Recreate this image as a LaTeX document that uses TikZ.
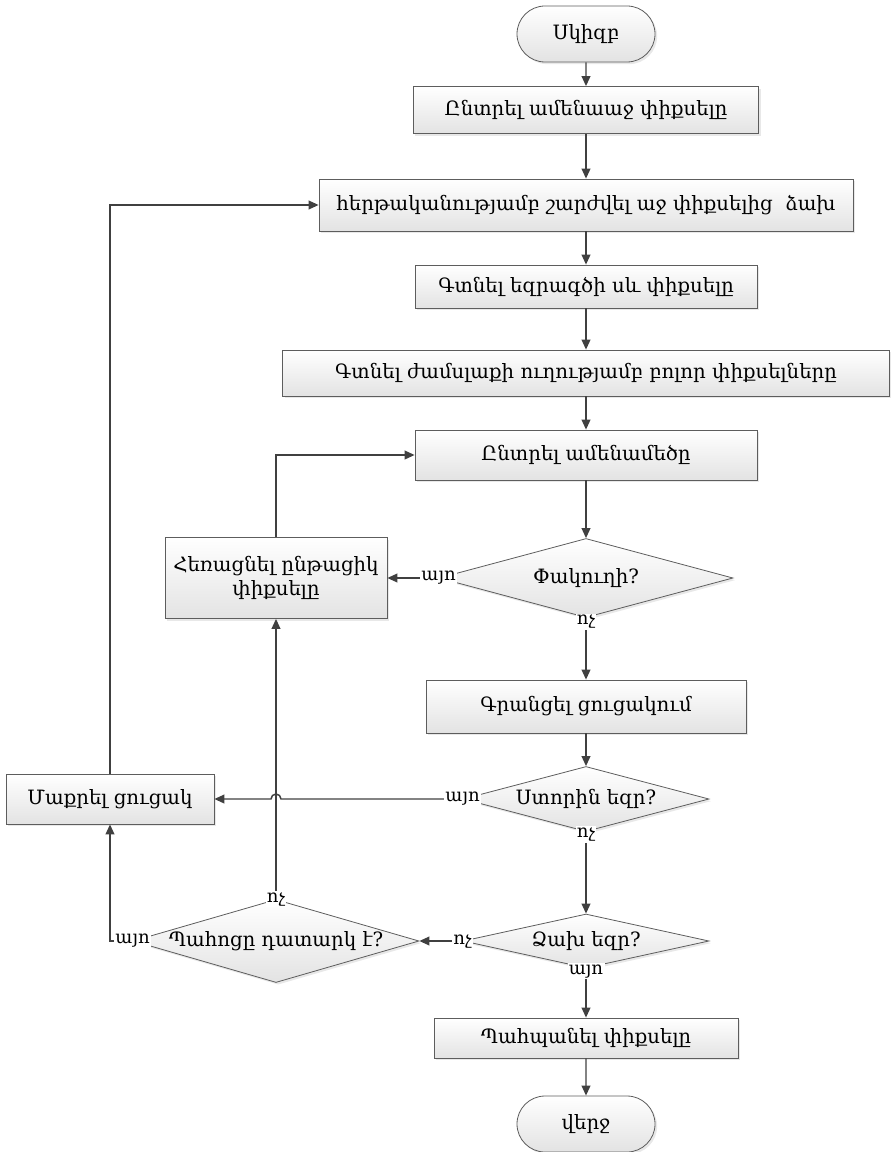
\documentclass[tikz,border=0pt]{standalone}
\usepackage{fontspec}
\setmainfont{DejaVu Serif}
\usetikzlibrary{shapes.geometric}
\usetikzlibrary{shapes.misc}
\usetikzlibrary{shadows}
\usetikzlibrary{arrows.meta}
\usetikzlibrary{calc}
\definecolor{linegray}{HTML}{404040}
\tikzset{box/.style={draw=linegray!85,line width=0.6pt,
    top color=white,bottom color=black!11,
    drop shadow={shadow xshift=1.6pt,shadow yshift=-1.6pt,fill=black!18},
    font=\fontsize{14.8}{18.5}\selectfont,align=center,inner sep=0pt}
}
\tikzset{proc/.style={box,rectangle}}
\tikzset{term/.style={box,rounded rectangle,minimum width=103.5pt,minimum height=42pt}}
\tikzset{decide/.style={box,diamond}}
\tikzset{lbl/.style={fill=white,inner sep=1pt,font=\fontsize{13.5}{15}\selectfont}}
\tikzset{flow/.style={draw=linegray,line width=1.1pt,-{Triangle[length=7.5pt,width=6.6pt]}}}

\begin{document}
\begin{tikzpicture}[x=0.75pt,y=-0.75pt]
                \useasboundingbox (0,0) rectangle (891,1152);

                % Main column
                \node[term] (start) at (586,34) {Սկիզբ};
                \node[proc,minimum width=259pt,minimum height=35.25pt] (pick) at (586,110) {Ընտրել ամենաաջ փիքսելը};
                \node[proc,minimum width=400.5pt,minimum height=39pt] (walk) at (586,205) {հերթականությամբ շարժվել աջ փիքսելից~ ձախ};
                \node[proc,minimum width=256.5pt,minimum height=32.25pt] (edge) at (586,286.5) {Գտնել եզրագծի սև փիքսելը};
                \node[proc,minimum width=455pt,minimum height=34.5pt] (all) at (586,373) {Գտնել ժամսլաքի ուղությամբ բոլոր փիքսելները};
                \node[proc,minimum width=256.5pt,minimum height=37.5pt] (max) at (586,455) {Ընտրել ամենամեծը};
                \node[decide,aspect=3.7,minimum width=220.5pt,minimum height=59.25pt] (dead) at (586,578) {Փակուղի?};
                \node[proc,minimum width=240pt,minimum height=39.75pt] (record) at (586,706.5) {Գրանցել ցուցակում};
                \node[decide,aspect=3.8,minimum width=184.5pt,minimum height=48.75pt] (bottom) at (586,799) {Ստորին եզր?};
                \node[decide,aspect=4.5,minimum width=184.5pt,minimum height=40.5pt] (left) at (586,941) {Ձախ եզր?};
                \node[proc,minimum width=228pt,minimum height=30pt] (save) at (586,1038) {Պահպանել փիքսելը};
                \node[term] (stop) at (586,1124) {վերջ};

                % Side column
                \node[proc,minimum width=166.5pt,minimum height=60.75pt] (remove) at (276,578) {Հեռացնել ընթացիկ\\փիքսելը};
                \node[decide,aspect=3.45,minimum width=214.5pt,minimum height=62.25pt] (empty) at (276,941) {Պահոցը դատարկ է?};
                \node[proc,minimum width=156pt,minimum height=37.5pt] (clear) at (110,799) {Մաքրել ցուցակ};

                % Labels
                \node[lbl] (yes1) at (dead.west) {այո};
                \node[lbl] (no1) at ([yshift=-3pt]dead.south) {ոչ};
                \node[lbl] (yes2) at (bottom.west) {այո};
                \node[lbl] (no2) at ([yshift=-2pt]bottom.south) {ոչ};
                \node[lbl] (no3) at (left.west) {ոչ};
                \node[lbl] (yes3) at ([yshift=-2pt]left.south) {այո};
                \node[lbl] (no4) at (empty.north) {ոչ};
                \node[lbl] (yes4) at (empty.west) {այո};

                % Arrows
                \draw[flow] (start) -- (pick);
                \draw[flow] (pick) -- (walk);
                \draw[flow] (walk) -- (edge);
                \draw[flow] (edge) -- (all);
                \draw[flow] (all) -- (max);
                \draw[flow] (max) -- (dead);
                \draw[flow] (yes1) -- (remove);
                \draw[flow] (remove) |- (max);
                \draw[flow] (no1) -- (record);
                \draw[flow] (record) -- (bottom);
                \draw[flow] (no2) -- (left);
                \draw[flow] (no3) -- (empty);
                \draw[flow] (no4) -- (remove);
                \draw[flow] (yes2) -- ($(remove.south |- yes2)+(5,0)$) arc[start angle=0,end angle=180,radius=3.75pt] -- (clear);
                \draw[flow] (yes4) -| (clear);
                \draw[flow] (clear) |- (walk);
                \draw[flow] (yes3) -- (save);
                \draw[flow] (save) -- (stop);
            \end{tikzpicture}
\end{document}
